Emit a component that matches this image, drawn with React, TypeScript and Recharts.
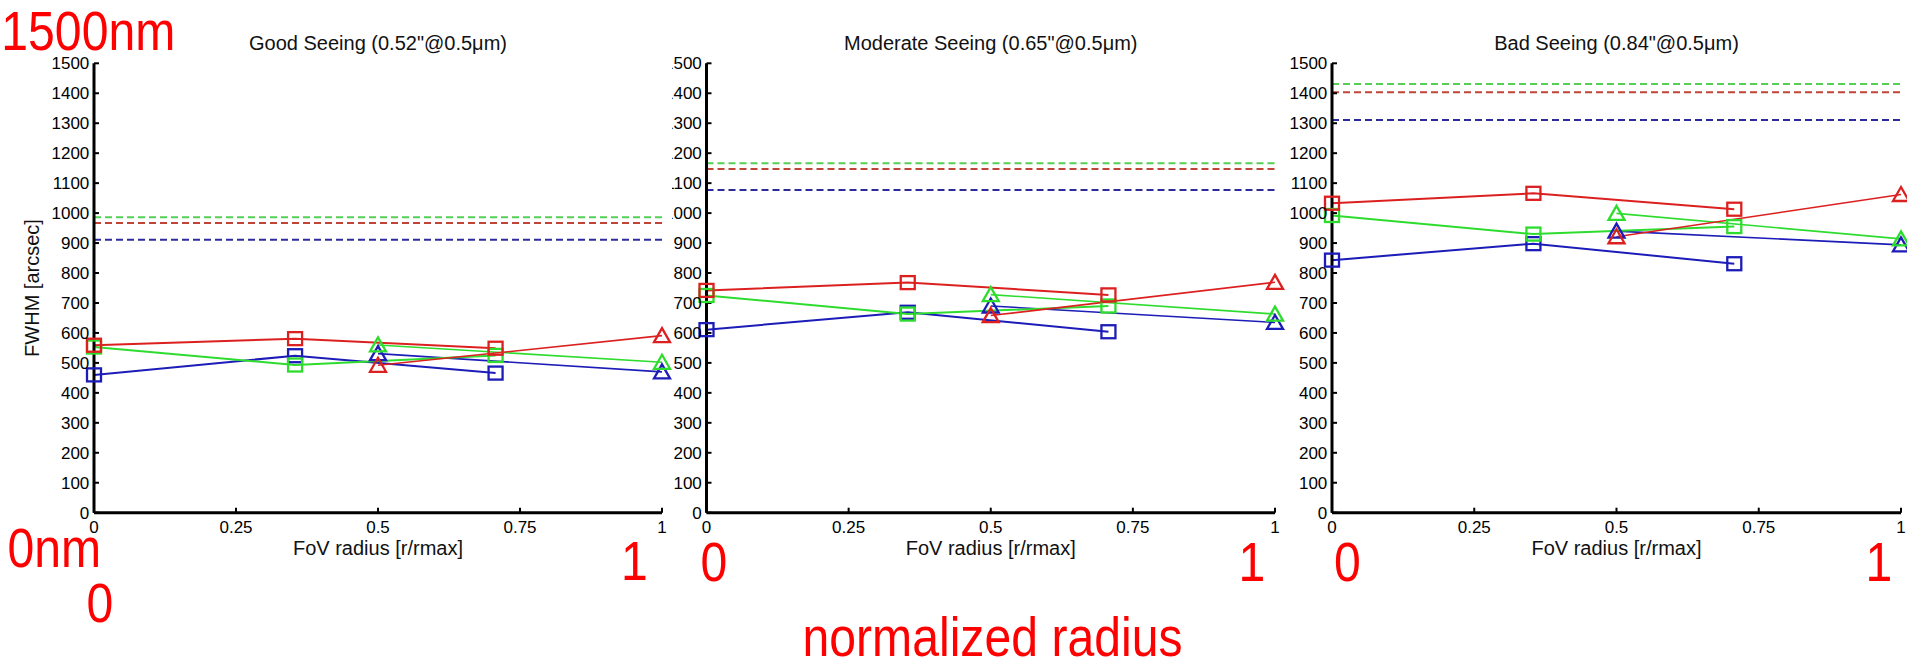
import React from 'react'
import { LineChart, Line, XAxis, YAxis, ReferenceLine } from 'recharts'

// radii where the two sampling patterns sit
const squareRadii = [0, 0.354, 0.707]
const triangleRadii = [0.5, 1]

const xTicks = [0, 0.25, 0.5, 0.75, 1]
const yTicks = [0, 100, 200, 300, 400, 500, 600, 700, 800, 900, 1000, 1100, 1200, 1300, 1400, 1500]

const panelTitles = [
  'Good Seeing (0.52"@0.5\u03bcm)',
  'Moderate Seeing (0.65"@0.5\u03bcm)',
  'Bad Seeing (0.84"@0.5\u03bcm)',
]

// FWHM per panel (good, moderate, bad)
const redSquares = [[559, 581, 549], [742, 768, 727], [1033, 1066, 1013]]
const greenSquares = [[553, 493, 525], [725, 663, 690], [992, 930, 955]]
const blueSquares = [[460, 524, 466], [611, 669, 604], [843, 898, 831]]
const redTriangles = [[492, 591], [658, 769], [921, 1062]]
const greenTriangles = [[560, 502], [728, 663], [999, 914]]
const blueTriangles = [[531, 470], [690, 635], [940, 894]]

// seeing-limited reference levels
const redDashed = [967, 1147, 1403]
const greenDashed = [986, 1166, 1431]
const blueDashed = [911, 1077, 1311]

const RED = '#dc2020'
const GREEN = '#2edc2e'
const BLUE = '#1c1cb8'

const FONT = '"Liberation Sans", Arial, Helvetica, sans-serif'
const PLOT_TOP = 63.3
const PLOT_BOTTOM = 512.7
const H = 662

const panels = [
  { left: 0, width: 672, plotLeft: 94, plotRight: 662, bg: '#fff' },
  { left: 640, width: 650, plotLeft: 706.5, plotRight: 1275, bg: 'transparent' },
  { left: 1280, width: 627, plotLeft: 1332, plotRight: 1901, bg: 'transparent' },
]

const toPoints = (xs: number[], ys: number[]) => xs.map((x, i) => ({ x, y: ys[i] }))

function squareDot(color: string) {
  return (p: any) => (
    <rect
      key={`sq-${p.index}`}
      x={p.cx - 7}
      y={p.cy - 6.5}
      width={14}
      height={13}
      fill="none"
      stroke={color}
      strokeWidth={2.3}
    />
  )
}

function triangleDot(color: string) {
  return (p: any) => (
    <path
      key={`tr-${p.index}`}
      d={`M${p.cx},${p.cy - 7.5} L${p.cx + 8},${p.cy + 6.5} L${p.cx - 8},${p.cy + 6.5} Z`}
      fill="none"
      stroke={color}
      strokeWidth={2.3}
    />
  )
}

function Panel({ i }: { i: number }) {
  const cfg = panels[i]
  const xAxisH = 30
  return (
    <div style={{ position: 'absolute', left: cfg.left, top: 0, width: cfg.width, height: H, background: cfg.bg }}>
      <LineChart
        width={cfg.width}
        height={H}
        margin={{
          top: PLOT_TOP,
          bottom: H - PLOT_BOTTOM - xAxisH,
          left: 0,
          right: cfg.left + cfg.width - cfg.plotRight,
        }}
        style={{ overflow: 'visible' }}
      >
        <XAxis
          type="number"
          dataKey="x"
          domain={[0, 1]}
          ticks={xTicks}
          interval={0}
          height={xAxisH}
          tickSize={-5}
          tickMargin={13.5}
          axisLine={{ stroke: '#000', strokeWidth: 3 }}
          tickLine={{ stroke: '#000', strokeWidth: 2 }}
          tick={{ fill: '#000', fontSize: 17, fontFamily: FONT }}
        />
        <YAxis
          type="number"
          domain={[0, 1500]}
          ticks={yTicks}
          interval={0}
          width={cfg.plotLeft - cfg.left}
          tickSize={-5}
          tickMargin={9.7}
          axisLine={{ stroke: '#000', strokeWidth: 3 }}
          tickLine={{ stroke: '#000', strokeWidth: 2 }}
          tick={{ fill: '#000', fontSize: 17, fontFamily: FONT }}
        />
        <ReferenceLine y={greenDashed[i]} stroke="#55d055" strokeWidth={2} strokeDasharray="7 4" />
        <ReferenceLine y={redDashed[i]} stroke="#c04538" strokeWidth={2} strokeDasharray="7 4" />
        <ReferenceLine y={blueDashed[i]} stroke="#2c2c9c" strokeWidth={2} strokeDasharray="7 4" />

        <Line data={toPoints(squareRadii, blueSquares[i])} dataKey="y" stroke={BLUE} strokeWidth={2} dot={squareDot(BLUE)} isAnimationActive={false} />
        <Line data={toPoints(triangleRadii, blueTriangles[i])} dataKey="y" stroke={BLUE} strokeWidth={1.6} dot={triangleDot(BLUE)} isAnimationActive={false} />
        <Line data={toPoints(squareRadii, greenSquares[i])} dataKey="y" stroke={GREEN} strokeWidth={2} dot={squareDot(GREEN)} isAnimationActive={false} />
        <Line data={toPoints(triangleRadii, greenTriangles[i])} dataKey="y" stroke={GREEN} strokeWidth={1.6} dot={triangleDot(GREEN)} isAnimationActive={false} />
        <Line data={toPoints(squareRadii, redSquares[i])} dataKey="y" stroke={RED} strokeWidth={2} dot={squareDot(RED)} isAnimationActive={false} />
        <Line data={toPoints(triangleRadii, redTriangles[i])} dataKey="y" stroke={RED} strokeWidth={1.6} dot={triangleDot(RED)} isAnimationActive={false} />
      </LineChart>
    </div>
  )
}

function Narrow({ x, y, anchor, children }: { x: number; y: number; anchor: 'start' | 'middle'; children: string }) {
  return (
    <text
      transform={`translate(${x},${y}) scale(0.86,1)`}
      textAnchor={anchor}
      fontSize={56}
      fill="#ff0000"
    >
      {children}
    </text>
  )
}

export default function App() {
  const centers = panels.map((p) => (p.plotLeft + p.plotRight) / 2)
  return (
    <div
      style={{
        position: 'absolute',
        left: 0,
        top: 0,
        width: 1907,
        height: H,
        background: '#fff',
        overflow: 'hidden',
        fontFamily: FONT,
      }}
    >
      <Panel i={2} />
      <Panel i={1} />
      <Panel i={0} />
      <svg
        width={1907}
        height={H}
        style={{ position: 'absolute', left: 0, top: 0, pointerEvents: 'none', fontFamily: FONT }}
      >
        {panelTitles.map((t, k) => (
          <text key={t} x={centers[k]} y={50} textAnchor="middle" fontSize={20} fill="#111">
            {t}
          </text>
        ))}
        {centers.map((c, k) => (
          <text key={`xl-${k}`} x={c} y={555} textAnchor="middle" fontSize={20} fill="#111">
            FoV radius [r/rmax]
          </text>
        ))}
        <text transform="translate(39,288) rotate(-90)" textAnchor="middle" fontSize={20} fill="#111">
          FWHM [arcsec]
        </text>

        <Narrow x={1.3} y={50} anchor="start">1500nm</Narrow>
        <Narrow x={7.5} y={567} anchor="start">0nm</Narrow>
        <Narrow x={100} y={622} anchor="middle">0</Narrow>
        <Narrow x={634.5} y={580} anchor="middle">1</Narrow>
        <Narrow x={714} y={581} anchor="middle">0</Narrow>
        <Narrow x={1252} y={581} anchor="middle">1</Narrow>
        <Narrow x={1347.5} y={581} anchor="middle">0</Narrow>
        <Narrow x={1879} y={581} anchor="middle">1</Narrow>
        <Narrow x={992.5} y={656} anchor="middle">normalized radius</Narrow>
      </svg>
    </div>
  )
}
